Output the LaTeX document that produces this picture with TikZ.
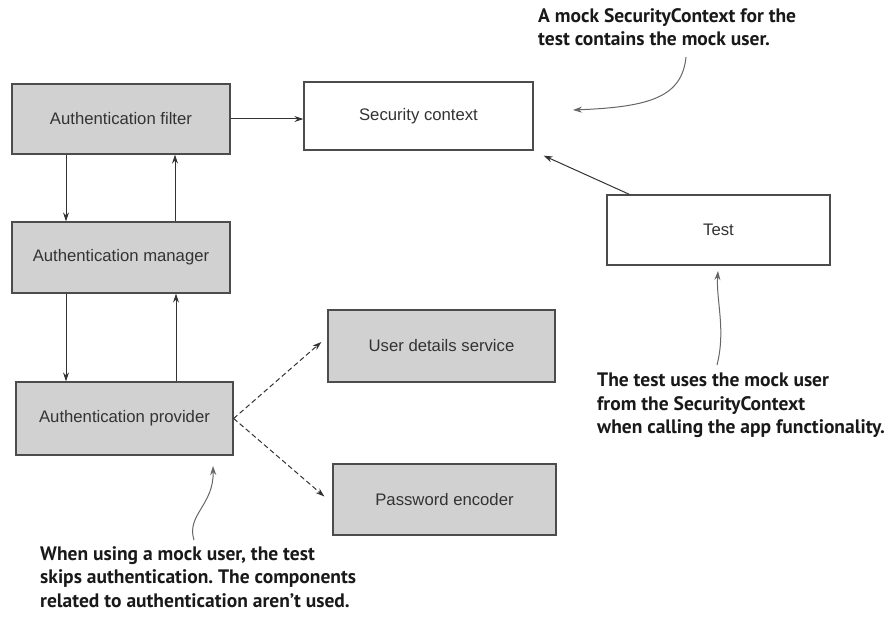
\documentclass[tikz,border=0pt]{standalone}
\usepackage{fontspec}
\setmainfont{Liberation Sans}
\newfontfamily\notefont{PT Sans}
\usetikzlibrary{arrows.meta,positioning}
\frenchspacing

\begin{document}
\begin{tikzpicture}[x=1pt,y=-1pt,>={Stealth[length=9pt,width=6pt]},
                    comp/.style={draw=black!70,fill=black!18,line width=1.3pt,
                      minimum width=218pt,minimum height=70pt,
                      font=\fontsize{16.7}{19}\selectfont,text=black!80},
                    plain/.style={comp,fill=white},
                    note/.style={anchor=north west,align=left,inner sep=0pt,
                      font=\notefont\bfseries\fontsize{19.5}{23.5}\selectfont,text=black!90},
                    flow/.style={->,draw=black!80,line width=1pt},
                    uses/.style={flow,dash pattern=on 5pt off 3pt},
                    callout/.style={->,draw=black!60,line width=1pt}]
    \useasboundingbox (0,0) rectangle (892,636);
    \node [comp]  (filter)   at (121,119)   {Authentication filter};
    \node [plain,minimum width=229pt,minimum height=68pt] (context) at (418.5,116) {Security context};
    \node [comp,minimum height=71pt]  (manager)  at (121,257.5) {Authentication manager};
    \node [plain,minimum width=223pt] (test) at (718.5,230) {Test};
    \node [comp,minimum width=227pt,minimum height=72pt] (details) at (441.5,346) {User details service};
    \node [comp,minimum width=217pt,minimum height=73pt] (provider) at (124.5,418.5) {Authentication provider};
    \node [comp,minimum width=223pt,minimum height=71pt] (encoder) at (444.5,499.5) {Password encoder};

    \node [note] (notecontext) at (538,8) {A mock SecurityContext for the\\test contains the mock user.};
    \node [note] (notetest) at (597,373) {The test uses the mock user\\from the SecurityContext\\when calling the app functionality.};
    \node [note] (noteskip) at (40,546) {When using a mock user, the test\\skips authentication. The components\\related to authentication aren’t used.};

    \coordinate (ctxtip) at (573,110);
    \coordinate (testtip) at (718,271);
    \coordinate (provtip) at (213,466);

    % authentication chain
    \draw [flow] (filter.east) -- (context.west |- filter.east);
    \draw [flow] ([xshift=-55pt]filter.south) -- ([xshift=-55pt]manager.north);
    \draw [flow] ([xshift=54pt]manager.north) -- ([xshift=54pt]filter.south);
    \draw [flow] ([xshift=-55pt]manager.south) -- ([xshift=-58.5pt]provider.north);
    \draw [flow] ([xshift=51.5pt]provider.north) -- ([xshift=55pt]manager.south);
    \draw [uses] (provider.east) -- ([xshift=-6pt,yshift=4pt]details.west);
    \draw [uses] (provider.east) -- ([xshift=-8pt,yshift=3pt]encoder.west);
    \draw [flow] ([xshift=23pt]test.north west) -- ([xshift=10pt,yshift=-5pt]context.south east);

    % callouts
    \draw [callout] (686,57) .. controls (682,97) and (650,107) .. (ctxtip);
    \draw [callout] (717,365) .. controls (726,330) and (716,300) .. (testtip);
    \draw [callout] (194,540) .. controls (186,515) and (214,505) .. (provtip);
\end{tikzpicture}
\end{document}
